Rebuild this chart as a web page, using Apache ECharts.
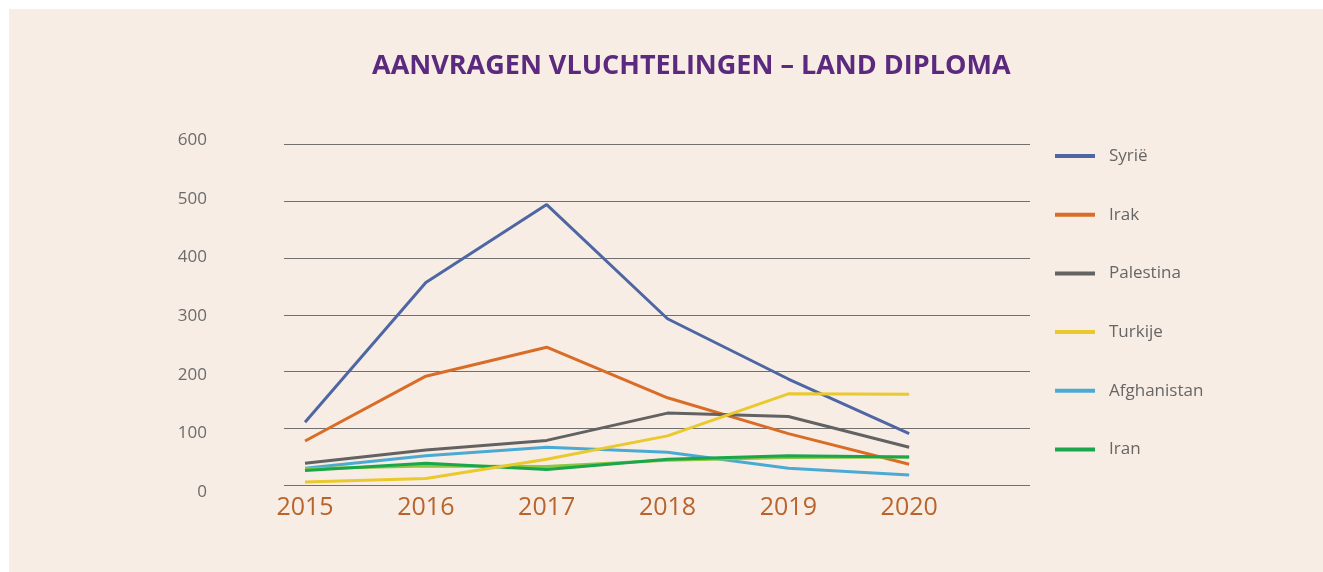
<!DOCTYPE html>
<html>
<head>
<meta charset="utf-8">
<script src="https://cdn.jsdelivr.net/npm/echarts@6/dist/echarts.min.js"></script>
<style>
  html, body { margin: 0; padding: 0; background: #fff; }
  #chart { position: absolute; left: 9px; top: 9px; width: 1314px; height: 563px; background: #f7ede5; }
</style>
</head>
<body>
<div id="chart"></div>
<script>
// jaren
const years = [2015, 2016, 2017, 2018, 2019, 2020];

const syrie = [111, 357, 494, 293, 187, 91];
const irak = [78, 192, 243, 154, 91, 37];
const palestina = [39, 62, 79, 127, 121, 67];
const turkije = [6, 12, 46, 87, 161, 160];
const afghanistan = [30, 52, 67, 58, 30, 18];
const iran = [26, 39, 28, 46, 52, 50];
// lichtgroene lijn zonder legenda
const overig = [29, 34, 33, 44, 49, 50];

const yTicks = [0, 100, 200, 300, 400, 500, 600];

function pairs(arr) {
  return years.map((y, i) => [y, arr[i]]);
}

const chart = echarts.init(document.getElementById("chart"));

function line(name, color, data) {
  return {
    name: name,
    type: 'line',
    symbol: 'none',
    lineStyle: { color: color, width: 3 },
    itemStyle: { color: color },
    data: pairs(data)
  };
}

let option = {
  animation: false,
  textStyle: { fontFamily: 'Open Sans' },
  title: {
    text: 'AANVRAGEN VLUCHTELINGEN – LAND DIPLOMA',
    left: 358,
    top: 39,
    textStyle: { color: '#5b2a7e', fontSize: 27, fontWeight: 'bold', fontFamily: 'Open Sans' }
  },
  grid: [
    { left: 275, right: 293, top: 135.3, bottom: 86.7 },
    // alleen voor de y-labels (staan iets anders dan de rasterlijnen)
    { left: 275, right: 293, top: 131, bottom: 80 }
  ],
  legend: {
    orient: 'vertical',
    left: 1041,
    top: 132,
    itemWidth: 40,
    itemHeight: 4,
    itemGap: 38.7,
    icon: 'rect',
    data: ['Syrië', 'Irak', 'Palestina', 'Turkije', 'Afghanistan', 'Iran'],
    textStyle: { color: '#666', fontSize: 17, lineHeight: 20, padding: [0, 0, 0, 9] }
  },
  xAxis: [{
    type: 'value',
    min: 2014.826,
    max: 2021,
    splitLine: { show: false },
    axisLine: { show: false },
    axisTick: { show: false },
    axisLabel: {
      customValues: years,
      margin: 10,
      color: '#b9642c',
      fontSize: 25,
      formatter: v => String(v)
    }
  }, {
    type: 'value',
    gridIndex: 1,
    show: false
  }],
  yAxis: [{
    type: 'value',
    min: yTicks[0],
    max: yTicks[yTicks.length - 1],
    interval: 100,
    axisLine: { show: false },
    axisTick: { show: false },
    axisLabel: { show: false },
    splitLine: { lineStyle: { color: '#707070', width: 1 } }
  }, {
    type: 'value',
    gridIndex: 1,
    min: yTicks[0],
    max: yTicks[yTicks.length - 1],
    interval: 100,
    axisLine: { show: false },
    axisTick: { show: false },
    splitLine: { show: false },
    axisLabel: { color: '#6b6b6b', fontSize: 17, margin: 77 }
  }],
  series: [
    line('Syrië', '#4e67a3', syrie),
    line('Irak', '#d96c27', irak),
    line('Palestina', '#626262', palestina),
    line('Afghanistan', '#4aaad3', afghanistan),
    line('overig', '#8dc63f', overig),
    line('Iran', '#1aa64a', iran),
    line('Turkije', '#e9c92b', turkije)
  ]
};
chart.setOption(option);
</script>
</body>
</html>
